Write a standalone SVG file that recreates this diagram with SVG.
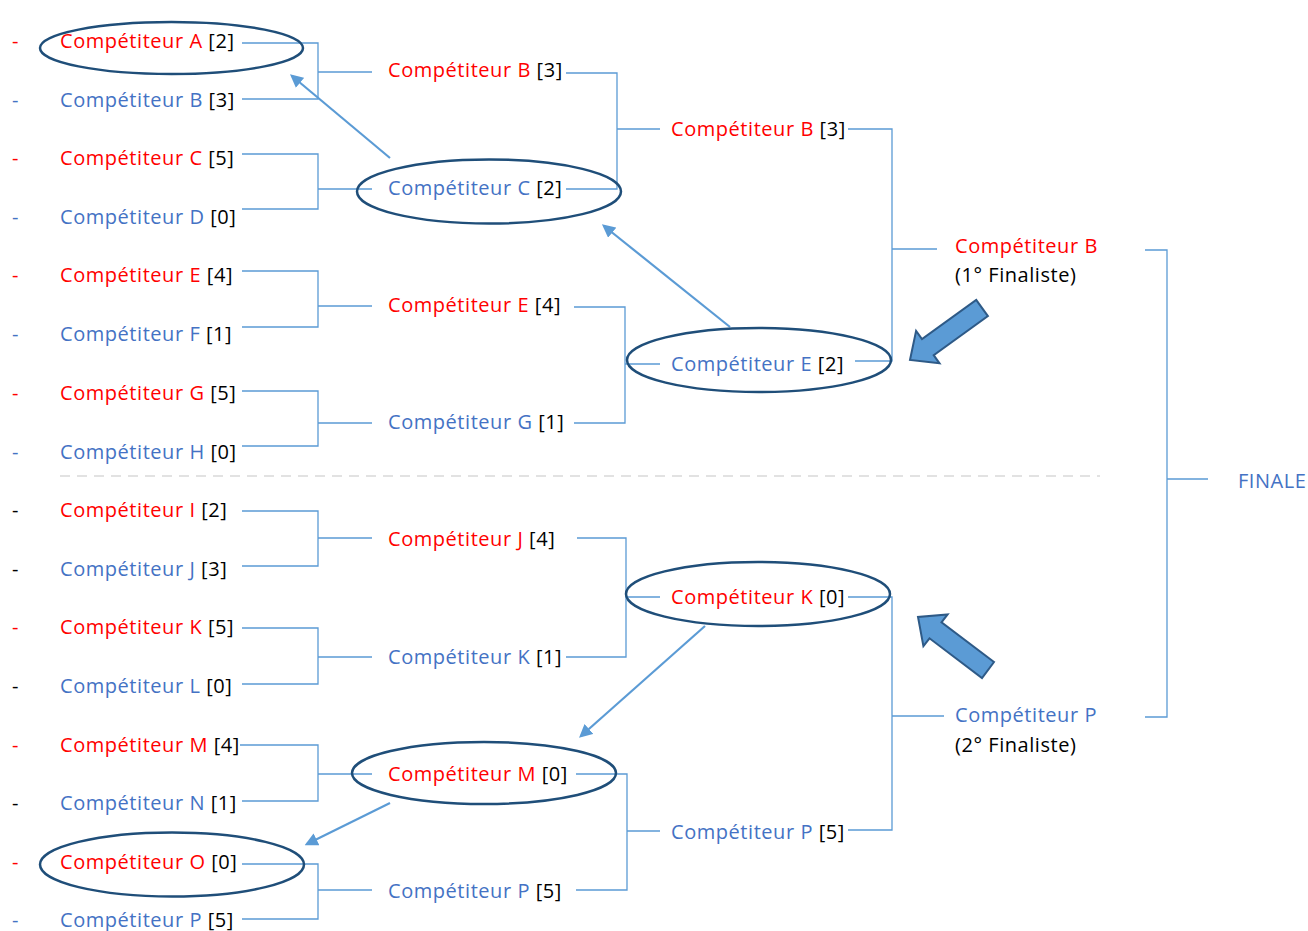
<svg xmlns="http://www.w3.org/2000/svg" width="1308" height="931" viewBox="0 0 1308 931">
<style>
text{font-family:"Open Sans","Liberation Sans",sans-serif;font-size:20px;letter-spacing:0.55px}
.r{fill:#FF0000}.b{fill:#4472C4}.k{fill:#000000}
.ln{stroke:#5B9BD5;stroke-width:1.3;fill:none}
.ov{stroke:#1F4E79;stroke-width:2.5;fill:none}
.ar{stroke:#5B9BD5;stroke-width:2.2;fill:none;marker-end:url(#ah)}
.blk{fill:#5B9BD5;stroke:#2E5A87;stroke-width:2;stroke-linejoin:miter}
</style>
<defs>
<marker id="ah" viewBox="0 0 10 10" refX="8" refY="5" markerWidth="6" markerHeight="6" orient="auto" markerUnits="strokeWidth">
<path d="M0,0 L10,5 L0,10 z" fill="#5B9BD5"/>
</marker>
</defs>
<rect width="1308" height="931" fill="#ffffff"/>
<line x1="60" y1="476" x2="1100" y2="476" stroke="#D9D9D9" stroke-width="1.5" stroke-dasharray="10 7"/>
<g id="connectors">
<path class="ln" d="M242,43H318V99H242M318,72H372"/>
<path class="ln" d="M242,154H318V209H242M318,189H372"/>
<path class="ln" d="M242,271H318V327H242M318,306H372"/>
<path class="ln" d="M242,391H318V446H242M318,423H372"/>
<path class="ln" d="M242,511H318V566H242M318,538H372"/>
<path class="ln" d="M242,628H318V684H242M318,657H372"/>
<path class="ln" d="M240,745H318V801H242M318,774H372"/>
<path class="ln" d="M242,864H318V919H242M318,890H372"/>
<path class="ln" d="M566,73H617V189H566M617,129H660"/>
<path class="ln" d="M574,307H625V423H574M625,364H660"/>
<path class="ln" d="M577,538H626V657H566M626,597H660"/>
<path class="ln" d="M576,774H627V890H576M627,831H660"/>
<path class="ln" d="M848,129H892V361H855M892,249H937"/>
<path class="ln" d="M848,597H892V830H848M892,716H944"/>
<path class="ln" d="M1145,250H1167V717H1145M1167,479H1208"/>
<line class="ar" x1="390" y1="158" x2="292" y2="76"/>
<line class="ar" x1="730" y1="327" x2="604" y2="226"/>
<line class="ar" x1="705" y1="626" x2="581" y2="736"/>
<line class="ar" x1="390" y1="803" x2="307" y2="844"/>
<polygon class="blk" points="976.2,299.9 987.9,316.1 933.7,355.2 939.5,363.3 910,360 916.1,330.9 922,339"/>
<polygon class="blk" points="994,662 941.5,622.3 947.6,614.4 918,617 923.4,646.2 929.5,638.3 982,678"/>
</g>
<g id="round1">
<text x="12" y="48" class="r">-</text><text x="60" y="48" class="r">Compétiteur A <tspan class="k">[2]</tspan></text>
<text x="12" y="107" class="b">-</text><text x="60" y="107" class="b">Compétiteur B <tspan class="k">[3]</tspan></text>
<text x="12" y="165" class="r">-</text><text x="60" y="165" class="r">Compétiteur C <tspan class="k">[5]</tspan></text>
<text x="12" y="224" class="b">-</text><text x="60" y="224" class="b">Compétiteur D <tspan class="k">[0]</tspan></text>
<text x="12" y="282" class="r">-</text><text x="60" y="282" class="r">Compétiteur E <tspan class="k">[4]</tspan></text>
<text x="12" y="341" class="b">-</text><text x="60" y="341" class="b">Compétiteur F <tspan class="k">[1]</tspan></text>
<text x="12" y="400" class="r">-</text><text x="60" y="400" class="r">Compétiteur G <tspan class="k">[5]</tspan></text>
<text x="12" y="459" class="b">-</text><text x="60" y="459" class="b">Compétiteur H <tspan class="k">[0]</tspan></text>
<text x="12" y="517" class="k">-</text><text x="60" y="517" class="r">Compétiteur I <tspan class="k">[2]</tspan></text>
<text x="12" y="576" class="k">-</text><text x="60" y="576" class="b">Compétiteur J <tspan class="k">[3]</tspan></text>
<text x="12" y="634" class="r">-</text><text x="60" y="634" class="r">Compétiteur K <tspan class="k">[5]</tspan></text>
<text x="12" y="693" class="k">-</text><text x="60" y="693" class="b">Compétiteur L <tspan class="k">[0]</tspan></text>
<text x="12" y="752" class="r">-</text><text x="60" y="752" class="r">Compétiteur M <tspan class="k">[4]</tspan></text>
<text x="12" y="810" class="k">-</text><text x="60" y="810" class="b">Compétiteur N <tspan class="k">[1]</tspan></text>
<text x="12" y="869" class="r">-</text><text x="60" y="869" class="r">Compétiteur O <tspan class="k">[0]</tspan></text>
<text x="12" y="927" class="b">-</text><text x="60" y="927" class="b">Compétiteur P <tspan class="k">[5]</tspan></text>
</g>
<g id="round2">
<text x="388" y="77" class="r">Compétiteur B <tspan class="k">[3]</tspan></text>
<text x="388" y="195" class="b">Compétiteur C <tspan class="k">[2]</tspan></text>
<text x="388" y="312" class="r">Compétiteur E <tspan class="k">[4]</tspan></text>
<text x="388" y="429" class="b">Compétiteur G <tspan class="k">[1]</tspan></text>
<text x="388" y="546" class="r">Compétiteur J <tspan class="k">[4]</tspan></text>
<text x="388" y="664" class="b">Compétiteur K <tspan class="k">[1]</tspan></text>
<text x="388" y="781" class="r">Compétiteur M <tspan class="k">[0]</tspan></text>
<text x="388" y="898" class="b">Compétiteur P <tspan class="k">[5]</tspan></text>
</g>
<g id="round3">
<text x="671" y="136" class="r">Compétiteur B <tspan class="k">[3]</tspan></text>
<text x="671" y="371" class="b">Compétiteur E <tspan class="k">[2]</tspan></text>
<text x="671" y="604" class="r">Compétiteur K <tspan class="k">[0]</tspan></text>
<text x="671" y="839" class="b">Compétiteur P <tspan class="k">[5]</tspan></text>
</g>
<g id="finalists">
<text x="955" y="253" class="r">Compétiteur B</text>
<text x="955" y="282" class="k">(1° Finaliste)</text>
<text x="955" y="722" class="b">Compétiteur P</text>
<text x="955" y="752" class="k">(2° Finaliste)</text>
</g>
<g id="finale">
<text x="1238" y="488" class="b">FINALE</text>
</g>
<g id="highlights">
<ellipse class="ov" cx="171.5" cy="48" rx="131.5" ry="26"/>
<ellipse class="ov" cx="489" cy="191.5" rx="132" ry="32"/>
<ellipse class="ov" cx="759" cy="360" rx="132" ry="32"/>
<ellipse class="ov" cx="758" cy="594" rx="132" ry="32"/>
<ellipse class="ov" cx="484" cy="773" rx="132" ry="31"/>
<ellipse class="ov" cx="172" cy="864.5" rx="132" ry="32"/>
</g>
</svg>
